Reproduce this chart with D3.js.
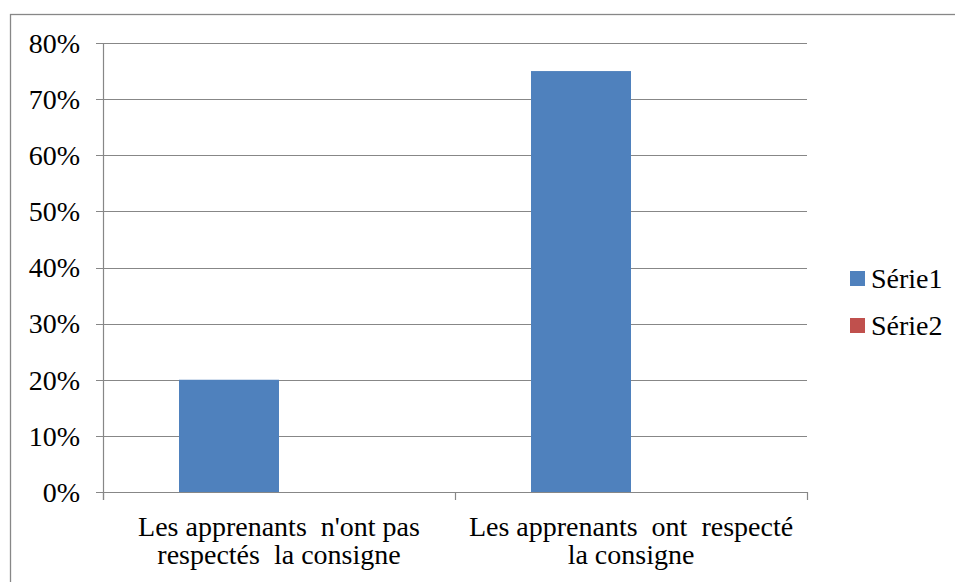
<!DOCTYPE html>
<html>
<head>
<meta charset="utf-8">
<script src="https://cdn.jsdelivr.net/npm/d3@7"></script>
<style>
  html, body { margin: 0; padding: 0; background: #fff; }
  svg { display: block; }
  text { font-family: "Liberation Serif", "DejaVu Serif", serif; fill: #000; }
</style>
</head>
<body>
<svg id="chart" width="955" height="582"></svg>
<script>
const categories = [
  ["Les apprenants  n'ont pas", "respectés  la consigne"],
  ["Les apprenants  ont  respecté", "la consigne"]
];
const seriesNames = ["Série1", "Série2"];
const serie1 = [0.20, 0.75];
const serie2 = [0, 0];
const yTicks = [0, 0.1, 0.2, 0.3, 0.4, 0.5, 0.6, 0.7, 0.8];
const colors = ["#4F81BD", "#C0504D"];

(function () {
const svg = d3.select("#chart");
const gridColor = "#878787";

// outer border
svg.append("rect")
  .attr("x", 10.5).attr("y", 14.5)
  .attr("width", 980).attr("height", 620)
  .attr("fill", "none").attr("stroke", gridColor).attr("stroke-width", 1.3);

const pLeft = 103, pRight = 807, pTop = 43, pBottom = 492;
const catIdx = categories.map((d, i) => i);
const x0 = d3.scaleBand().domain(catIdx).range([pLeft, pRight]).padding(0);
const x1 = d3.scaleBand().domain(seriesNames).range([0, x0.bandwidth()]).paddingInner(0).paddingOuter(0.76);
const y = d3.scaleLinear().domain([0, 0.8]).range([pBottom, pTop]);

// gridlines
svg.append("g").selectAll("line").data(yTicks).join("line")
  .attr("x1", pLeft - 7).attr("x2", pRight)
  .attr("y1", d => Math.round(y(d)) + 0.5).attr("y2", d => Math.round(y(d)) + 0.5)
  .attr("stroke", gridColor).attr("stroke-width", 1.2);

// y tick labels
svg.append("g").selectAll("text").data(yTicks).join("text")
  .attr("x", 80).attr("y", d => y(d))
  .attr("dy", "0.35em")
  .attr("text-anchor", "end")
  .attr("font-size", 28)
  .text(d => d3.format(".0%")(d));

// bars
const seriesData = [serie1, serie2];
seriesNames.forEach((s, si) => {
  svg.append("g").selectAll("rect").data(seriesData[si]).join("rect")
    .attr("x", (d, i) => x0(i) + x1(s))
    .attr("width", x1.bandwidth())
    .attr("y", d => y(d))
    .attr("height", d => pBottom - y(d))
    .attr("fill", colors[si]);
});

// y axis line
svg.append("line")
  .attr("x1", pLeft + 0.5).attr("x2", pLeft + 0.5)
  .attr("y1", pTop).attr("y2", pBottom + 8)
  .attr("stroke", gridColor).attr("stroke-width", 1.2);

// x axis line
svg.append("line")
  .attr("x1", pLeft - 7).attr("x2", pRight)
  .attr("y1", pBottom + 0.5).attr("y2", pBottom + 0.5)
  .attr("stroke", gridColor).attr("stroke-width", 1.2);

// x ticks at band boundaries
const bounds = catIdx.map(i => x0(i)).concat([x0(catIdx[catIdx.length - 1]) + x0.bandwidth()]);
svg.append("g").selectAll("line").data(bounds).join("line")
  .attr("x1", d => Math.round(d) + 0.5).attr("x2", d => Math.round(d) + 0.5)
  .attr("y1", pBottom).attr("y2", pBottom + 8)
  .attr("stroke", gridColor).attr("stroke-width", 1.2);

// x labels
const xl = svg.append("g").selectAll("text").data(categories).join("text")
  .attr("text-anchor", "middle")
  .attr("font-size", 28)
  .style("white-space", "pre");
xl.each(function(lines, i) {
  const t = d3.select(this);
  lines.forEach((ln, j) => {
    t.append("tspan")
      .attr("x", x0(i) + x0.bandwidth() / 2)
      .attr("y", 536 + j * 28)
      .text(ln);
  });
});

// legend
const lg = svg.append("g").selectAll("g").data(seriesNames).join("g")
  .attr("transform", (d, i) => `translate(850, ${271 + i * 47})`);
lg.append("rect").attr("width", 15).attr("height", 15).attr("fill", (d, i) => colors[i]);
lg.append("text").attr("x", 21).attr("y", 7.5).attr("dy", "0.35em")
  .attr("font-size", 28).text(d => d);
})();
</script>
</body>
</html>
